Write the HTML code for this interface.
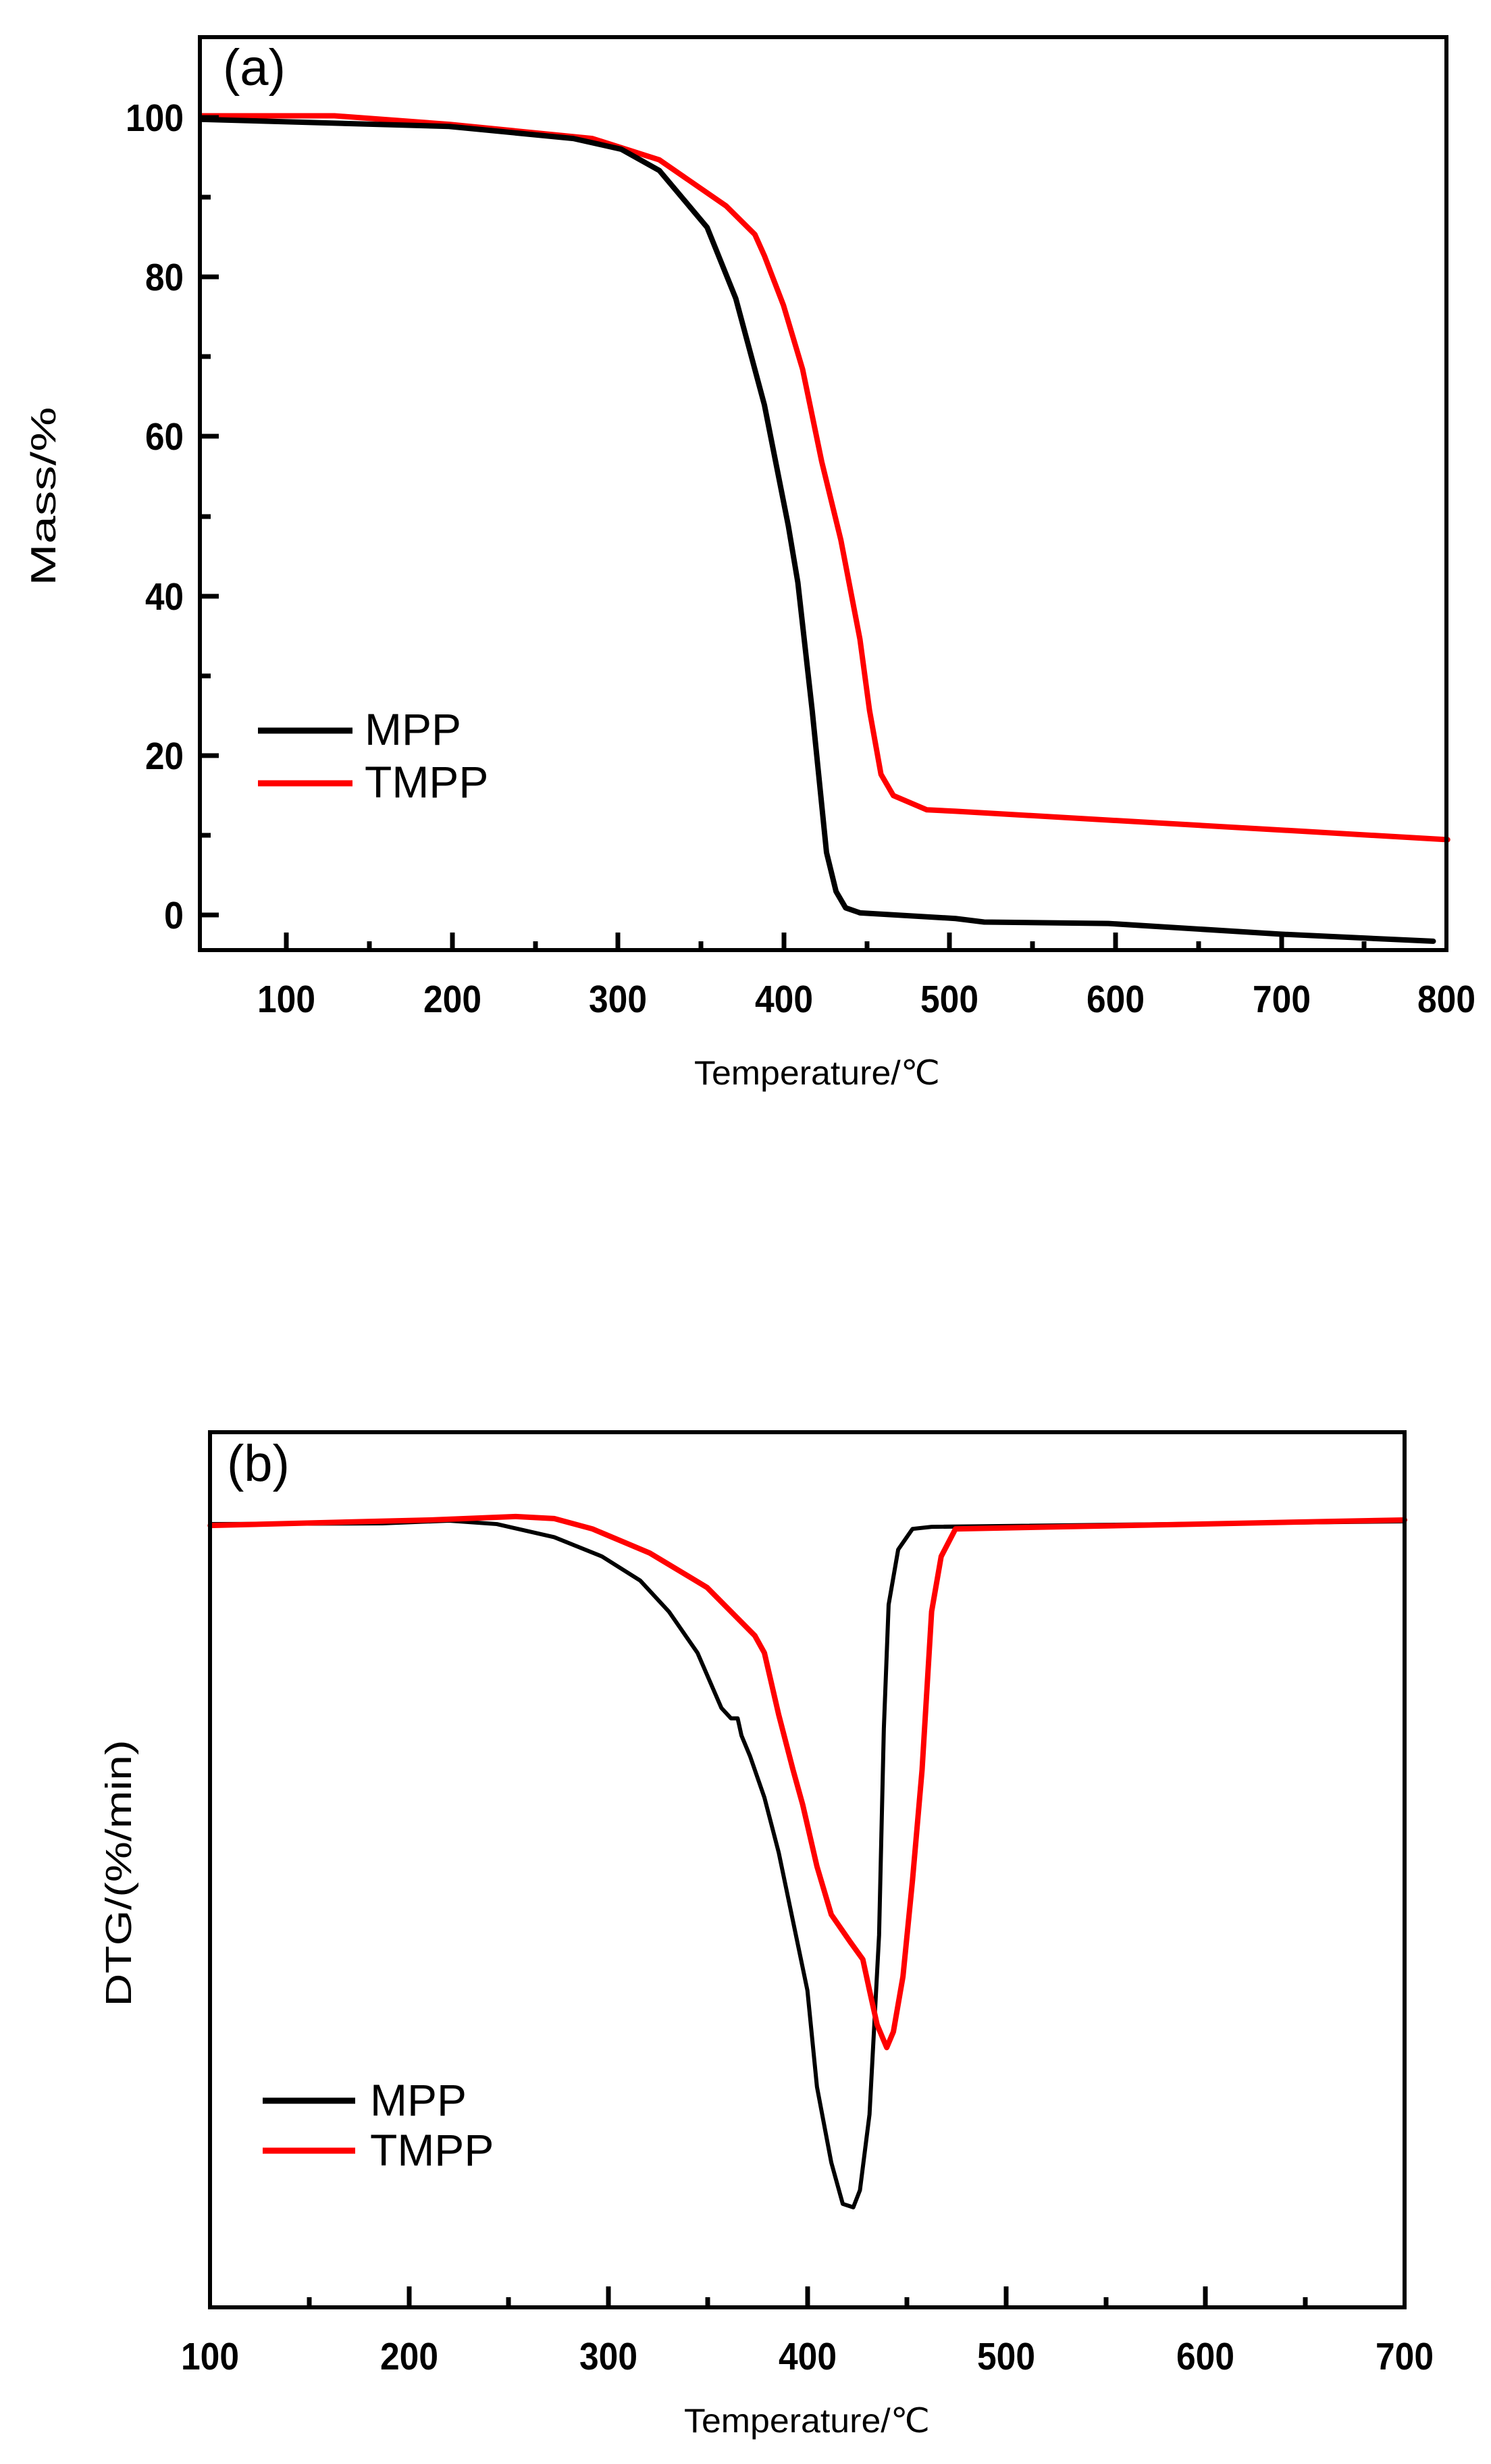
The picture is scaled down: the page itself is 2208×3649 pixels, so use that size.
<!DOCTYPE html>
<html><head><meta charset="utf-8"><style>
html,body{margin:0;padding:0;background:#fff;}
svg{display:block;}
text{font-family:"Liberation Sans",sans-serif;fill:#000;}
.tl{font-weight:bold;font-size:57px;}
</style></head><body>
<svg width="2208" height="3649" viewBox="0 0 2208 3649" xmlns="http://www.w3.org/2000/svg">
<rect width="2208" height="3649" fill="#fff"/>

<!-- Panel A -->
<g transform="scale(1.415,1.052)" fill="none" stroke-linejoin="round" stroke-linecap="round">
<polyline vector-effect="non-scaling-stroke" stroke="#ff0000" stroke-width="8" points="210,163 350,163 470,175 620,195 690,225 760,290 790,330 800,360 820,430 840,520 860,650 880,760 900,900 910,1000 922,1090 935,1120 970,1140 1000,1142 1515,1182"/>
<polyline vector-effect="non-scaling-stroke" stroke="#000" stroke-width="8" points="210,168 470,178 600,195 650,210 690,240 740,320 770,420 800,570 825,740 835,820 850,1000 865,1200 875,1255 885,1278 900,1285 1000,1293 1030,1298 1160,1300 1340,1315 1500,1325"/>
</g>
<rect x="296" y="55" width="1846" height="1352" fill="none" stroke="#000" stroke-width="6"/>
<g stroke="#000" stroke-width="7">
<line x1="424" y1="1407" x2="424" y2="1381"/><line x1="670" y1="1407" x2="670" y2="1381"/><line x1="915" y1="1407" x2="915" y2="1381"/><line x1="1161" y1="1407" x2="1161" y2="1381"/><line x1="1406" y1="1407" x2="1406" y2="1381"/><line x1="1652" y1="1407" x2="1652" y2="1381"/><line x1="1898" y1="1407" x2="1898" y2="1381"/>
<line x1="547" y1="1407" x2="547" y2="1394"/><line x1="793" y1="1407" x2="793" y2="1394"/><line x1="1038" y1="1407" x2="1038" y2="1394"/><line x1="1284" y1="1407" x2="1284" y2="1394"/><line x1="1529" y1="1407" x2="1529" y2="1394"/><line x1="1775" y1="1407" x2="1775" y2="1394"/><line x1="2020" y1="1407" x2="2020" y2="1394"/>
<line x1="296" y1="1355" x2="324" y2="1355"/><line x1="296" y1="1119" x2="324" y2="1119"/><line x1="296" y1="883" x2="324" y2="883"/><line x1="296" y1="646" x2="324" y2="646"/><line x1="296" y1="410" x2="324" y2="410"/><line x1="296" y1="174" x2="324" y2="174"/>
<line x1="296" y1="1237" x2="312" y2="1237"/><line x1="296" y1="1001" x2="312" y2="1001"/><line x1="296" y1="765" x2="312" y2="765"/><line x1="296" y1="528" x2="312" y2="528"/><line x1="296" y1="292" x2="312" y2="292"/>
</g>
<g text-anchor="middle">
<text class="tl" x="424" y="1499" textLength="86" lengthAdjust="spacingAndGlyphs">100</text><text class="tl" x="670" y="1499" textLength="86" lengthAdjust="spacingAndGlyphs">200</text><text class="tl" x="915" y="1499" textLength="86" lengthAdjust="spacingAndGlyphs">300</text><text class="tl" x="1161" y="1499" textLength="86" lengthAdjust="spacingAndGlyphs">400</text><text class="tl" x="1406" y="1499" textLength="86" lengthAdjust="spacingAndGlyphs">500</text><text class="tl" x="1652" y="1499" textLength="86" lengthAdjust="spacingAndGlyphs">600</text><text class="tl" x="1898" y="1499" textLength="86" lengthAdjust="spacingAndGlyphs">700</text><text class="tl" x="2142" y="1499" textLength="86" lengthAdjust="spacingAndGlyphs">800</text>
</g>
<g text-anchor="end">
<text class="tl" x="272" y="1375" textLength="29" lengthAdjust="spacingAndGlyphs">0</text><text class="tl" x="272" y="1139" textLength="57" lengthAdjust="spacingAndGlyphs">20</text><text class="tl" x="272" y="903" textLength="57" lengthAdjust="spacingAndGlyphs">40</text><text class="tl" x="272" y="666" textLength="57" lengthAdjust="spacingAndGlyphs">60</text><text class="tl" x="272" y="430" textLength="57" lengthAdjust="spacingAndGlyphs">80</text><text class="tl" x="272" y="194" textLength="86" lengthAdjust="spacingAndGlyphs">100</text>
</g>
<text x="1210" y="1606" font-size="50" text-anchor="middle" textLength="364" lengthAdjust="spacingAndGlyphs">Temperature/℃</text>
<text transform="translate(82,735) rotate(-90)" font-size="52" text-anchor="middle" textLength="265" lengthAdjust="spacingAndGlyphs">Mass/%</text>
<text x="330" y="126" font-size="76">(a)</text>
<line x1="382" y1="1082" x2="522" y2="1082" stroke="#000" stroke-width="9"/>
<line x1="382" y1="1160" x2="522" y2="1160" stroke="#ff0000" stroke-width="9"/>
<text x="540" y="1103" font-size="66">MPP</text>
<text x="540" y="1181" font-size="66">TMPP</text>

<!-- Panel B -->
<g transform="translate(0,2050) scale(1.415,1.02)" fill="none" stroke-linejoin="round" stroke-linecap="round">
<polyline vector-effect="non-scaling-stroke" stroke="#000" stroke-width="6" points="220,203 400,202 470,198 520,203 580,222 630,250 670,285 700,330 730,390 755,470 765,485 772,485 776,510 785,540 800,600 815,680 830,780 845,880 855,1020 870,1130 882,1190 893,1195 900,1170 910,1060 920,800 925,500 930,320 940,240 955,210 975,207 1470,199"/>
<polyline vector-effect="non-scaling-stroke" stroke="#ff0000" stroke-width="8" points="220,205 450,197 540,192 580,195 620,210 680,245 740,295 790,365 800,390 815,480 830,560 840,610 855,700 870,770 890,810 903,835 910,880 918,930 928,963 935,940 945,860 955,720 965,560 975,330 985,250 1000,210 1470,197"/>
</g>
<rect x="311" y="2121" width="1769" height="1296" fill="none" stroke="#000" stroke-width="6"/>
<g stroke="#000" stroke-width="7">
<line x1="606" y1="3417" x2="606" y2="3386"/><line x1="901" y1="3417" x2="901" y2="3386"/><line x1="1196" y1="3417" x2="1196" y2="3386"/><line x1="1490" y1="3417" x2="1490" y2="3386"/><line x1="1785" y1="3417" x2="1785" y2="3386"/>
<line x1="458" y1="3417" x2="458" y2="3402"/><line x1="753" y1="3417" x2="753" y2="3402"/><line x1="1048" y1="3417" x2="1048" y2="3402"/><line x1="1343" y1="3417" x2="1343" y2="3402"/><line x1="1638" y1="3417" x2="1638" y2="3402"/><line x1="1933" y1="3417" x2="1933" y2="3402"/>
</g>
<g text-anchor="middle">
<text class="tl" x="311" y="3509" textLength="86" lengthAdjust="spacingAndGlyphs">100</text><text class="tl" x="606" y="3509" textLength="86" lengthAdjust="spacingAndGlyphs">200</text><text class="tl" x="901" y="3509" textLength="86" lengthAdjust="spacingAndGlyphs">300</text><text class="tl" x="1196" y="3509" textLength="86" lengthAdjust="spacingAndGlyphs">400</text><text class="tl" x="1490" y="3509" textLength="86" lengthAdjust="spacingAndGlyphs">500</text><text class="tl" x="1785" y="3509" textLength="86" lengthAdjust="spacingAndGlyphs">600</text><text class="tl" x="2080" y="3509" textLength="86" lengthAdjust="spacingAndGlyphs">700</text>
</g>
<text x="1195" y="3602" font-size="50" text-anchor="middle" textLength="364" lengthAdjust="spacingAndGlyphs">Temperature/℃</text>
<text transform="translate(194,2774) rotate(-90)" font-size="54" text-anchor="middle" textLength="395" lengthAdjust="spacingAndGlyphs">DTG/(%/min)</text>
<text x="336" y="2193" font-size="76">(b)</text>
<line x1="389" y1="3111" x2="526" y2="3111" stroke="#000" stroke-width="9"/>
<line x1="389" y1="3185" x2="526" y2="3185" stroke="#ff0000" stroke-width="9"/>
<text x="548" y="3133" font-size="66">MPP</text>
<text x="548" y="3207" font-size="66">TMPP</text>
</svg>
</body></html>
